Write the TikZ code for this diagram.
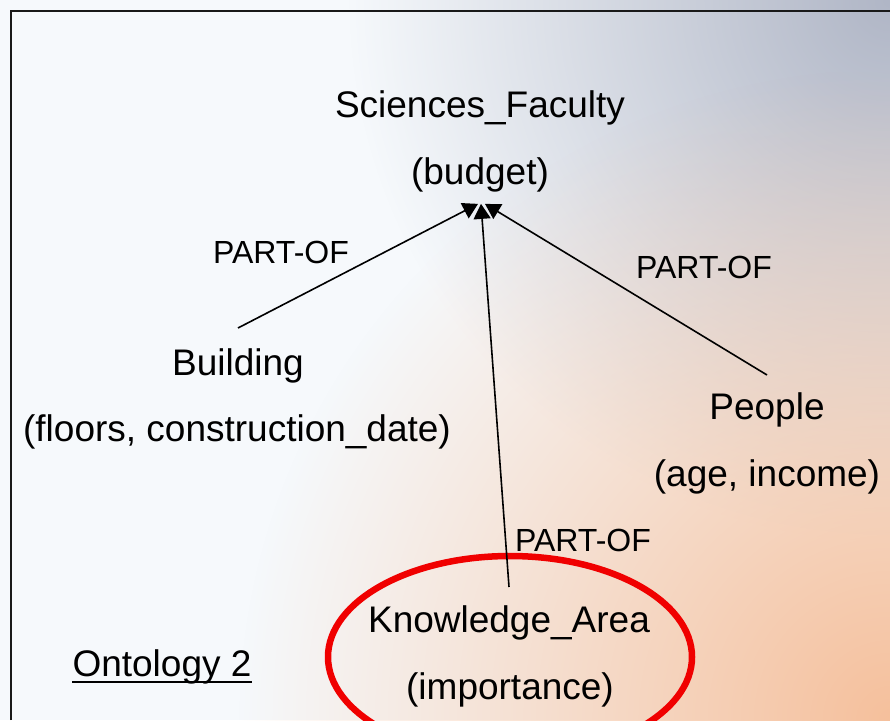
\documentclass[tikz,border=0pt]{standalone}
\usepackage{fontspec}
\setmainfont{Liberation Sans}
\usetikzlibrary{arrows.meta,fadings}

\definecolor{paper}{RGB}{246,249,252}
\definecolor{slate}{RGB}{176,182,198}
\definecolor{peach}{RGB}{245,192,156}
\definecolor{frame}{RGB}{25,25,25}
\definecolor{ring}{RGB}{240,0,0}

\tikzfading[name=glow, inner color=transparent!0, outer color=transparent!100]

\tikzset{
  lbl/.style={font=\fontsize{37}{44}\selectfont, inner sep=0pt, anchor=base},
  rel/.style={font=\fontsize{32}{38}\selectfont, inner sep=0pt, anchor=base},
  link/.style={line width=1.6pt, -{Triangle[length=15pt,width=17pt]}},
}

\begin{document}
\begin{tikzpicture}[x=1pt,y=-1pt]
\useasboundingbox (0,0) rectangle (890,720);

% soft slide background
\begin{scope}
  \clip (0,0) rectangle (890,720);
  \fill[paper] (0,0) rectangle (890,720);
  \fill[slate, path fading=glow] (350,-540) rectangle (1430,540);
  \fill[peach, path fading=glow] (240,70) rectangle (1540,1370);
\end{scope}

% slide frame (left and top edges)
\draw[frame, line width=2pt] (11,720) -- (11,11) -- (890,11);

% highlight ring
\draw[ring, line width=6.5pt] (510,657) ellipse [x radius=182, y radius=101];

% concepts
\node[lbl] (sf)  at (480,117) {Sciences\_Faculty};
\node[lbl] (sfa) at (480,184) {(budget)};
\node[lbl] (bl)  at (238,375) {Building};
\node[lbl] (bla) at (237,441) {(floors, construction\_date)};
\node[lbl] (pp)  at (767,419) {People};
\node[lbl] (ppa) at (767,486) {(age, income)};
\node[lbl] (ka)  at (509,632) {Knowledge\_Area};
\node[lbl] (kaa) at (510,699) {(importance)};

% caption
\node[lbl] (ont) at (162,676) {Ontology 2};
\draw[line width=2.5pt] ([yshift=-6pt]ont.base west) -- ([yshift=-6pt]ont.base east);

% relation labels
\node[rel] (r1) at (281,263) {PART-OF};
\node[rel] (r2) at (704,278) {PART-OF};
\node[rel] (r3) at (583,551) {PART-OF};

% part-of links
\coordinate (hub) at ([yshift=-12pt]sfa.south);
\draw[link] ([yshift=20pt]bl.north) -- ([xshift=-2pt]hub);
\draw[link] ([yshift=18pt]ka.north) -- ([xshift=1pt]hub);
\draw[link] ([yshift=17pt]pp.north) -- ([xshift=5pt]hub);
\end{tikzpicture}
\end{document}
